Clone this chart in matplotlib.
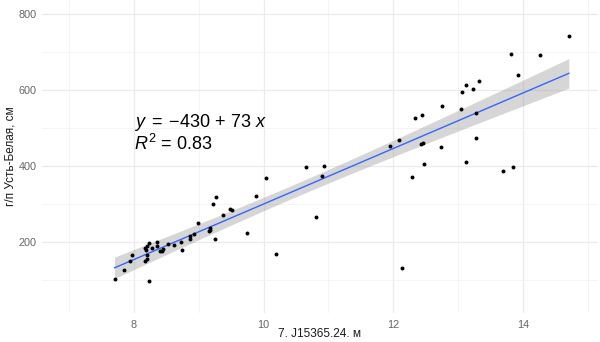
import numpy as np
import matplotlib
matplotlib.use("Agg")
import matplotlib.pyplot as plt
from matplotlib.ticker import MultipleLocator

plt.rcParams['font.family'] = ['Liberation Sans', 'DejaVu Sans']
plt.rcParams['mathtext.fontset'] = 'custom'
plt.rcParams['mathtext.rm'] = 'Liberation Sans'
plt.rcParams['mathtext.it'] = 'Liberation Sans:italic'
plt.rcParams['mathtext.bf'] = 'Liberation Sans:bold'

# Level at the J15365.24 station (m) vs. level at gauge Усть-Белая (cm)
level_station = [
    7.70, 7.85, 7.94, 7.97, 8.17, 8.20, 8.20, 8.18, 8.17, 8.20,
    8.23, 8.23, 8.28, 8.35, 8.35, 8.40, 8.43, 8.45, 8.53, 8.62,
    8.72, 8.74, 8.86, 8.87, 8.92, 8.99, 9.16, 9.17, 9.18, 9.25,
    9.22, 9.26, 9.37, 9.48, 9.51, 9.75, 9.88, 10.19, 10.81, 10.04,
    10.66, 10.93, 10.90, 11.95, 12.09, 12.13, 12.29, 12.34, 12.45, 12.43,
    12.46, 12.47, 12.74, 12.75, 13.05, 13.12, 13.28, 13.28, 13.70, 13.85,
    13.82, 14.27, 13.92, 14.71, 13.06, 13.12, 13.23, 13.32,
]
level_gauge = [
    103, 126, 149, 165, 149, 155, 165, 179, 183, 190,
    197, 98, 183, 201, 189, 176, 177, 182, 196, 193,
    199, 178, 215, 208, 220, 249, 229, 236, 232, 207,
    300, 318, 271, 288, 284, 225, 321, 168, 266, 368,
    397, 400, 374, 453, 469, 132, 370, 526, 534, 459,
    460, 405, 450, 557, 550, 411, 540, 473, 388, 397,
    695, 693, 639, 743, 596, 614, 603, 623,
]

# Fitted regression, as stated in the equation label
intercept = -430
slope = 73
r_squared = 0.83

x = np.asarray(level_station)
y = np.asarray(level_gauge)

fig = plt.figure(figsize=(6.0, 3.42), dpi=100)
ax = fig.add_axes([42 / 600, 29 / 342, 556 / 600, 313 / 342])

# 95% confidence band of the mean prediction
n = len(x)
resid = y - (intercept + slope * x)
s = np.sqrt(np.sum(resid ** 2) / (n - 2))
sxx = np.sum((x - x.mean()) ** 2)
xs = np.linspace(x.min(), x.max(), 200)
fit = intercept + slope * xs
half = 1.997 * s * np.sqrt(1 / n + (xs - x.mean()) ** 2 / sxx)
ax.fill_between(xs, fit - half, fit + half, color='#999999', alpha=0.4,
                linewidth=0, zorder=2)
ax.plot(xs, fit, color='#3366FF', lw=1.0, zorder=3)

ax.scatter(x, y, s=8, color='black', linewidths=0, zorder=4)

ax.set_xlim(6.58, 15.16)
ax.set_ylim(13.2, 836.8)
ax.xaxis.set_major_locator(MultipleLocator(2))
ax.xaxis.set_minor_locator(MultipleLocator(1))
ax.yaxis.set_major_locator(MultipleLocator(200))
ax.yaxis.set_minor_locator(MultipleLocator(100))
ax.grid(which='major', color='#EBEBEB', lw=0.9)
ax.grid(which='minor', color='#F2F2F2', lw=0.6)
ax.set_axisbelow(True)
for sp in ax.spines.values():
    sp.set_visible(False)
ax.tick_params(which='both', length=0, labelsize=7.8, labelcolor='#666666')
ax.tick_params(axis='x', pad=5)
ax.tick_params(axis='y', pad=4)

fig.text(320 / 600, (342 - 334) / 342, '7. J15365.24. м', fontsize=8.5,
         color='#1A1A1A', ha='center', va='center')
fig.text(11 / 600, 0.5 + 0.5 * 29 / 342, 'г/п Усть-Белая, см', fontsize=8.5,
         color='#1A1A1A', ha='center', va='center', rotation=90)

ax.text(8.0, 503, r'$y\;=\;{-}430\,+\,73\ x$', fontsize=13, color='black',
        ha='left', va='baseline', zorder=5)
ax.text(8.0, 442, r'$R^2$' + ' = {:.2f}'.format(r_squared), fontsize=13,
        color='black', ha='left', va='baseline', zorder=5)

fig.savefig('out.png', dpi=100)
